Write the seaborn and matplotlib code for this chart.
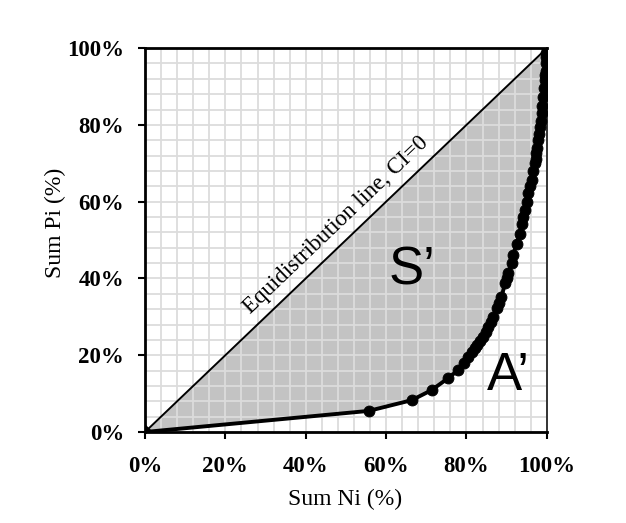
import numpy as np
import pandas as pd
import matplotlib
matplotlib.use("Agg")
import matplotlib.pyplot as plt
from matplotlib.ticker import MultipleLocator, PercentFormatter
import seaborn as sns

# Data (percent)
sum_ni = [0.0, 55.7, 66.4, 71.3, 75.4, 77.9, 79.5, 80.4, 81.3, 82.0, 82.5, 83.3, 84.1, 84.8, 85.4,
          86.0, 86.6, 87.5, 88.1, 88.7, 89.6, 90.0, 90.4, 91.2, 91.6, 92.5, 93.3, 93.7, 94.1, 94.5,
          95.0, 95.3, 95.8, 96.2, 96.6, 97.0, 97.2, 97.4, 97.6, 97.8, 98.0, 98.3, 98.5,
          98.7, 98.9, 99.1, 99.3, 99.5, 99.6, 99.7, 99.8, 99.9, 99.9, 100.0]
sum_pi = [0.0, 5.5, 8.3, 10.9, 14.0, 16.1, 18.0, 19.6, 20.9, 21.8, 22.7, 23.8, 24.8, 26.0, 27.4,
          28.7, 30.0, 32.2, 33.6, 35.2, 38.7, 40.0, 41.3, 43.9, 46.1, 49.1, 51.7, 54.3, 56.0, 57.8,
          60.0, 62.2, 64.0, 65.6, 68.0, 70.0, 71.2, 72.6, 74.0, 76.0, 77.5, 79.5, 81.0,
          83.0, 85.0, 87.3, 89.5, 91.7, 93.0, 94.0, 96.0, 97.7, 98.8, 100.0]
equi_x = [0, 100]
equi_y = [0, 100]
x_ticks = [0, 20, 40, 60, 80, 100]
y_ticks = [0, 20, 40, 60, 80, 100]

df = pd.DataFrame({"Sum Ni": sum_ni, "Sum Pi": sum_pi})

sns.set_theme(style="white")
plt.rcParams["font.family"] = ["Liberation Serif", "DejaVu Serif"]
plt.rcParams["text.color"] = "black"
plt.rcParams["axes.labelcolor"] = "black"
plt.rcParams["xtick.color"] = "black"
plt.rcParams["ytick.color"] = "black"

fig = plt.figure(figsize=(6.26, 5.23), dpi=100)
ax = fig.add_axes([0.2316, 0.174, 0.642, 0.734])

# filled area between equidistribution line and curve
ax.fill_between(df["Sum Ni"], df["Sum Ni"], df["Sum Pi"], color="#c3c3c3",
                linewidth=0, zorder=0.3)

# equidistribution line
sns.lineplot(x=equi_x, y=equi_y, ax=ax, color="black", linewidth=1.4, zorder=3)

# curve
sns.lineplot(data=df, x="Sum Ni", y="Sum Pi", ax=ax, color="black",
             linewidth=2.8, zorder=4)
sns.scatterplot(data=df.iloc[1:], x="Sum Ni", y="Sum Pi", ax=ax, color="black",
                s=62, edgecolor="black", zorder=5)
ax.plot([0], [0], marker="D", color="black", markersize=7, zorder=5)

ax.set_xlim(0, 100)
ax.set_ylim(0, 100)
ax.set_xticks(x_ticks)
ax.set_yticks(y_ticks)
ax.xaxis.set_major_formatter(PercentFormatter(decimals=0))
ax.yaxis.set_major_formatter(PercentFormatter(decimals=0))
ax.xaxis.set_minor_locator(MultipleLocator(4))
ax.yaxis.set_minor_locator(MultipleLocator(4))
ax.set_axisbelow(True)
ax.grid(which="both", color="#dcdcdc", linewidth=1.3)
ax.tick_params(which="major", direction="out", length=5, width=1.5,
               color="black", left=True, bottom=True, labelsize=16.5)
ax.tick_params(axis="x", which="major", pad=12)
ax.tick_params(axis="y", which="major", pad=10)
ax.tick_params(which="minor", length=0)
for lab in ax.get_xticklabels() + ax.get_yticklabels():
    lab.set_fontweight("bold")

for side in ["left", "bottom", "top"]:
    ax.spines[side].set_linewidth(2.0)
    ax.spines[side].set_color("black")
ax.spines["right"].set_linewidth(1.4)
ax.spines["right"].set_color("#333333")

ax.set_xlabel("Sum Ni (%)", fontsize=17)
ax.set_ylabel("Sum Pi (%)", fontsize=17)
ax.xaxis.set_label_coords(0.497, -0.177)
ax.xaxis.label.set_va("center")
ax.yaxis.set_label_coords(-0.224, 0.544)
ax.yaxis.label.set_va("center")

ax.text(47.5, 54.0, "Equidistribution line, CI=0", rotation=43.7,
        rotation_mode="anchor", ha="center", va="center", fontsize=16.5,
        color="black", zorder=6)
ax.text(66.5, 42, "S\u2019", fontsize=38, family=["Liberation Sans", "DejaVu Sans"],
        ha="center", va="center", zorder=6)
ax.text(90.5, 14.5, "A\u2019", fontsize=38, family=["Liberation Sans", "DejaVu Sans"],
        ha="center", va="center", zorder=6)

fig.savefig("out.png", dpi=100)
